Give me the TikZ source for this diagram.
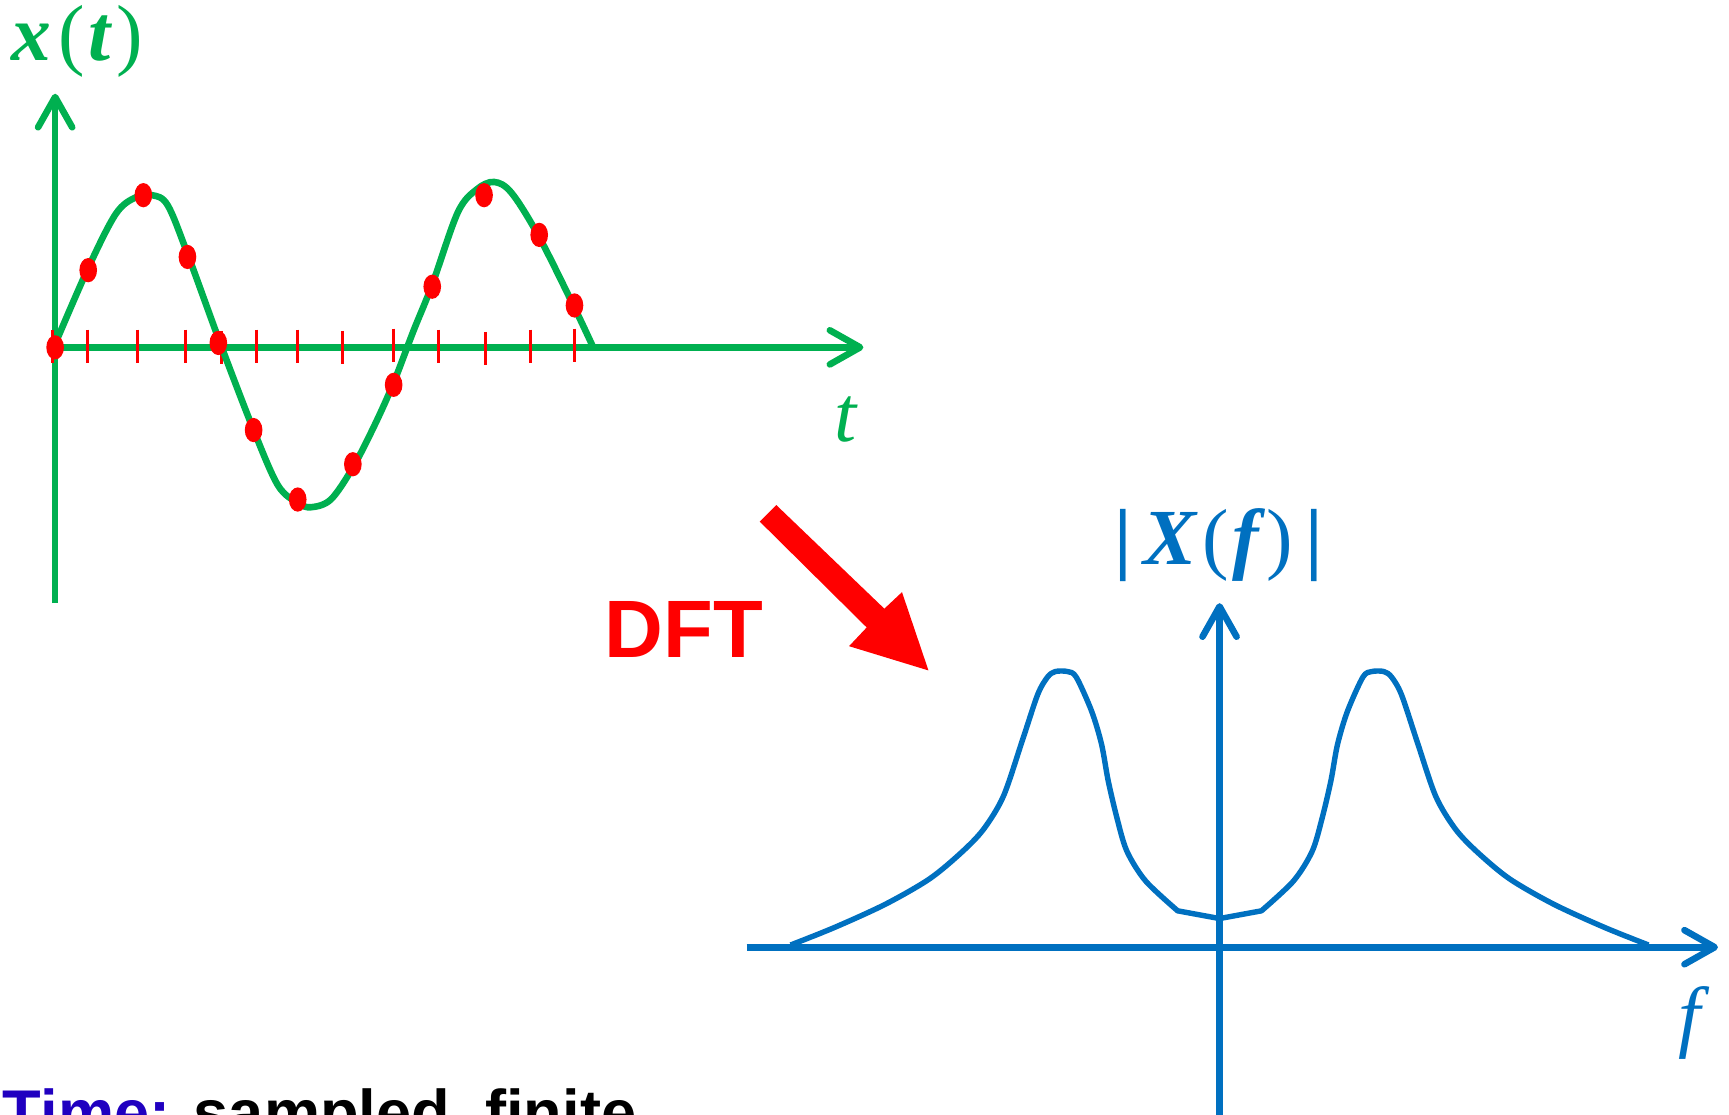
\documentclass[tikz,border=0pt]{standalone}
\usepackage{fontspec}
\setmainfont{Liberation Serif}
\newfontfamily\sansfam{Liberation Sans}
\usetikzlibrary{arrows.meta,shapes.geometric}
\definecolor{tgreen}{HTML}{00B050}
\definecolor{fblue}{HTML}{0070C0}
\definecolor{tred}{HTML}{FF0000}
\definecolor{tblue}{HTML}{2000C0}
\begin{document}
\begin{tikzpicture}[x=0.01cm,y=-0.01cm,
  barb/.style={-{Straight Barb[length=7.8pt,width=8.8pt,round]}},
  gaxis/.style={draw=tgreen,line width=1.7pt,barb},
  faxis/.style={draw=fblue,line width=1.7pt,barb},
  sinecurve/.style={draw=tgreen,line width=1.7pt,line join=round},
  speccurve/.style={draw=fblue,line width=1.4pt,line join=round},
  tickmark/.style={draw=tred,line width=0.75pt},
  sample/.style={ellipse,fill=tred,inner sep=0pt,minimum width=0.16cm,minimum height=0.22cm},
  biglabel/.style={font=\fontsize{20.5}{24}\selectfont,inner sep=0pt,anchor=base}]
\useasboundingbox (0,0) rectangle (1568,1011);
\begin{scope}
\clip (0,0) rectangle (1568,1011);
% ---------- time domain ----------
\coordinate (tO) at (50,315);
\coordinate (tB) at (50,547);
\coordinate (tY) at (50,85);
\coordinate (tX) at (783,315);
\draw[gaxis] (tB) -- (tY);
\draw[gaxis] (tO) -- (tX);
\node[biglabel,text=tgreen] (xt) at (70,55) {{\bfseries\itshape x}\kern2pt(\kern1pt{\bfseries\itshape t}\kern1.5pt)};
\node[biglabel,text=tgreen] (tl) at (767,400) {\itshape t};
% ticks
\foreach \x/\d in {48/0,79/0,125/0,168/0,201/1,233/0,270/0,311/1,357/-1,398/0,440/2,481/0,521/-1}
  \draw[tickmark] (\x,299+\d) -- (\x,329+\d);
% sine
\draw[sinecurve] plot[smooth,tension=0.55] coordinates {(50,312) (80,243) (105,194) (123,179) (138,177) (152,186) (170,230) (200,312) (230,390) (252,440) (270,456) (282,460) (300,453) (320,424) (340,385) (357,347) (375,300) (392,258) (415,193) (432,172) (448,165) (464,175) (489,215) (521,279) (538,315)};
% samples
\foreach \n/\x/\y in {1/50/315,2/80/245,3/130/177,4/170/233,5/198/311,6/230/390,7/270/453,8/320/421,9/357/349,10/392/260,11/439/177,12/489/213,13/521/277}
  \node[sample] (s\n) at (\x,\y) {};
% ---------- DFT arrow ----------
\node[font=\sansfam\bfseries\fontsize{21}{24}\selectfont,text=tred,inner sep=0pt,anchor=base] (dft) at (620,596) {DFT};
\fill[tred] (689,473) -- (704,458) -- (802,552) -- (818,537) -- (842,608) -- (770,586) -- (786,569) -- cycle;
% ---------- frequency domain ----------
\coordinate (fL) at (677,859);
\coordinate (fO) at (1106,859);
\coordinate (fX) at (1558,859);
\coordinate (fB) at (1106,1015);
\coordinate (fY) at (1106,547);
\draw[faxis] (fL) -- (fX);
\draw[faxis] (fB) -- (fY);
\node[biglabel,text=fblue] (Xf) at (1105,512) {{\bfseries|}\kern3pt{\bfseries\itshape X}\kern1.5pt(\kern1pt{\bfseries\itshape f}\kern2pt)\kern3pt{\bfseries|}};
\node[biglabel,text=fblue] (fl) at (1532,945) {\itshape f};
\draw[speccurve] plot[smooth,tension=0.5] coordinates {(717,857) (757,841) (803,820) (843,797) (872,773) (892,752) (910,722) (927,672) (941,630) (950,614) (957,609) (968,609) (976,614) (990,645) (999,675) (1005,708) (1013,742) (1022,772) (1039,799) (1068,826)}
  -- (1106,833) -- (1144,826)
  -- plot[smooth,tension=0.5] coordinates {(1144,826) (1173,799) (1190,772) (1199,742) (1207,708) (1213,675) (1222,645) (1236,614) (1244,609) (1255,609) (1262,614) (1271,630) (1285,672) (1302,722) (1320,752) (1340,773) (1369,797) (1409,820) (1455,841) (1495,857)};
% ---------- caption ----------
\node[font=\sansfam\bfseries\fontsize{16.3}{20}\selectfont,inner sep=0pt,anchor=base west] (cap) at (2,1029) {\textcolor{tblue}{Time:} sampled, finite};
\end{scope}
\end{tikzpicture}
\end{document}
